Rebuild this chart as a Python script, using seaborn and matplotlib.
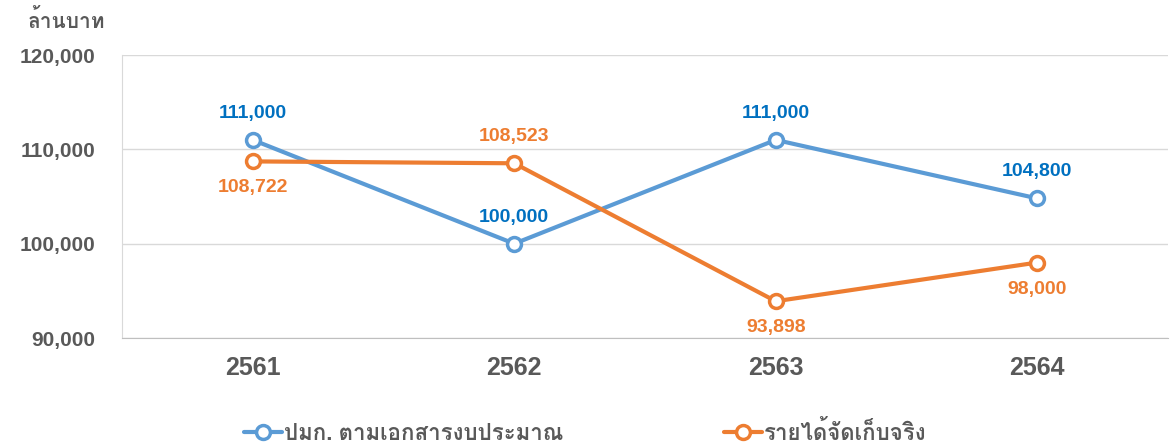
import matplotlib
matplotlib.use("Agg")
import matplotlib.pyplot as plt
import seaborn as sns
import pandas as pd
from matplotlib import font_manager
from matplotlib.ft2font import FT2Font

years = ["2561", "2562", "2563", "2564"]
budget = [111000, 100000, 111000, 104800]
actual = [108722, 108523, 93898, 98000]
budget_name = "ปมก. ตามเอกสารงบประมาณ"
actual_name = "รายได้จัดเก็บจริง"
unit_label = "ล้านบาท"
y_ticks = [90000, 100000, 110000, 120000]

BLUE = "#5B9BD5"
BLUE_TEXT = "#0070C0"
ORANGE = "#ED7D31"
GREY = "#595959"

# find an installed family that has Thai glyphs
thai_font = None
for f in font_manager.fontManager.ttflist:
    try:
        if 0x0E01 in FT2Font(f.fname).get_charmap():
            thai_font = f.name
            break
    except Exception:
        pass

sns.set_style("white")
families = ["Liberation Sans"]
if thai_font:
    families.append(thai_font)
families.append("DejaVu Sans")
plt.rcParams["font.family"] = families

df = pd.DataFrame({
    "year": years * 2,
    "value": budget + actual,
    "series": [budget_name] * len(years) + [actual_name] * len(years),
})

fig = plt.figure(figsize=(11.71, 4.48), dpi=100)
ax = fig.add_axes([0.1042, 0.2455, 0.8932, 0.6317])

for name, color in [(budget_name, BLUE), (actual_name, ORANGE)]:
    sns.lineplot(data=df[df["series"] == name], x="year", y="value", ax=ax,
                 color=color, linewidth=3, marker="o", markersize=10,
                 markerfacecolor="white", markeredgecolor=color,
                 markeredgewidth=2.5, label=name)

# data labels
for i, v in enumerate(budget):
    ax.annotate(f"{v:,}", (i, v), xytext=(0, 13), textcoords="offset points",
                ha="center", va="bottom", color=BLUE_TEXT, fontsize=14, fontweight="bold")
actual_offsets = [-13, 13, -13, -13]
for i, v in enumerate(actual):
    off = actual_offsets[i]
    ax.annotate(f"{v:,}", (i, v), xytext=(0, off), textcoords="offset points",
                ha="center", va="bottom" if off > 0 else "top",
                color=ORANGE, fontsize=14, fontweight="bold")

ax.set_xlim(-0.5, 3.5)
ax.set_ylim(90000, 120000)
ax.set_yticks(y_ticks)
ax.set_yticklabels([f"{t:,}" for t in y_ticks])
ax.yaxis.grid(True, color="#D9D9D9", linewidth=1)
ax.set_axisbelow(True)
ax.tick_params(axis="y", labelsize=15, colors=GREY, length=0, pad=19)
ax.tick_params(axis="x", labelsize=18, colors=GREY, length=0, pad=13)
for lab in ax.get_xticklabels() + ax.get_yticklabels():
    lab.set_fontweight("bold")
ax.set_xlabel("")
ax.set_ylabel("")

for s in ["top", "right"]:
    ax.spines[s].set_visible(False)
ax.spines["left"].set_color("#D9D9D9")
ax.spines["bottom"].set_color("#BFBFBF")

fig.text(0.024, 0.955, unit_label, ha="left", va="center", fontsize=15,
         fontweight="bold", color=GREY)

ax.legend(loc="center", bbox_to_anchor=(0.443, -0.335), ncol=2, frameon=False,
          columnspacing=7.2, handlelength=1.7, handletextpad=0.1,
          labelcolor=GREY, prop={"weight": "bold", "size": 16})

fig.savefig("out.png", dpi=100)
